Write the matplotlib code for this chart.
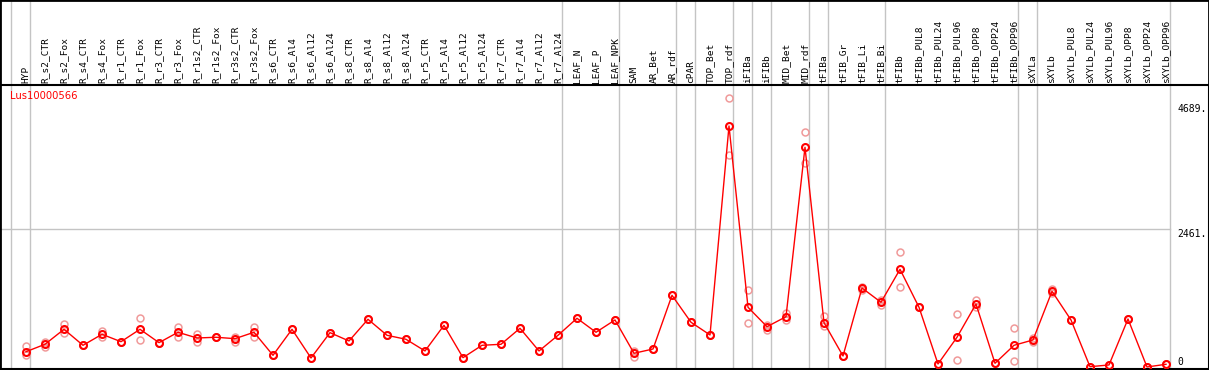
import matplotlib.pyplot as plt
from matplotlib.patches import Rectangle
from matplotlib.transforms import blended_transform_factory

# sample names along the x axis
labels = ['HYP', 'R_s2_CTR', 'R_s2_Fox', 'R_s4_CTR', 'R_s4_Fox', 'R_r1_CTR', 'R_r1_Fox',
          'R_r3_CTR', 'R_r3_Fox', 'R_r1s2_CTR', 'R_r1s2_Fox', 'R_r3s2_CTR', 'R_r3s2_Fox',
          'R_s6_CTR', 'R_s6_Al4', 'R_s6_Al12', 'R_s6_Al24', 'R_s8_CTR', 'R_s8_Al4',
          'R_s8_Al12', 'R_s8_Al24', 'R_r5_CTR', 'R_r5_Al4', 'R_r5_Al12', 'R_r5_Al24',
          'R_r7_CTR', 'R_r7_Al4', 'R_r7_Al12', 'R_r7_Al24', 'LEAF_N', 'LEAF_P', 'LEAF_NPK',
          'SAM', 'AR_Bet', 'AR_rdf', 'cPAR', 'TOP_Bet', 'TOP_rdf', 'iFIBa', 'iFIBb',
          'MID_Bet', 'MID_rdf', 'tFIBa', 'tFIB_Gr', 'tFIB_Li', 'tFIB_Bi', 'tFIBb',
          'tFIBb_PUL8', 'tFIBb_PUL24', 'tFIBb_PUL96', 'tFIBb_OPP8', 'tFIBb_OPP24',
          'tFIBb_OPP96', 'sXYLa', 'sXYLb', 'sXYLb_PUL8', 'sXYLb_PUL24', 'sXYLb_PUL96',
          'sXYLb_OPP8', 'sXYLb_OPP24', 'sXYLb_OPP96']

# number of samples in each tissue group (grey separators)
group_sizes = [1, 28, 3, 3, 1, 2, 1, 1, 2, 1, 3, 7, 1, 7]

# mean expression
means = [272, 404, 671, 386, 582, 450, 671, 433, 618, 516, 529, 504, 618,
         208, 671, 160, 611, 463, 849, 564, 493, 285, 742, 166, 386, 404, 689,
         285, 564, 867, 618, 837, 244, 320, 1276, 796, 570, 4290, 1063, 717,
         895, 3911, 789, 196, 1406, 1152, 1739, 1063, 53, 529, 1121, 66, 386,
         481, 1347, 837, 5, 36, 854, 0, 48]

# replicate values
rep_a = [374, 450, 760, 386, 641, 450, 867, 433, 717, 582, 529, 539, 707,
         208, 671, 160, 611, 463, 849, 564, 493, 285, 742, 166, 386, 404, 689,
         285, 564, 867, 618, 837, 285, 320, 1276, 796, 570, 4783, 1371, 748,
         956, 4178, 908, 196, 1429, 1193, 2052, 1063, 53, 938, 1193, 66, 689,
         522, 1383, 837, 5, 36, 854, 0, 48]
rep_b = [214, 361, 600, 386, 539, 450, 481, 433, 529, 445, 529, 450, 539,
         208, 671, 160, 611, 463, 849, 564, 493, 285, 742, 166, 386, 404, 689,
         285, 564, 867, 618, 837, 183, 320, 1276, 796, 570, 3774, 778, 659,
         837, 3626, 730, 196, 1371, 1098, 1419, 1063, 53, 125, 1063, 66, 101,
         445, 1323, 837, 5, 36, 854, 0, 48]

y_ticks = [0, 2461, 4689]
gene = 'Lus10000566'

W, H = 1209, 370
fig = plt.figure(figsize=(W / 100, H / 100), dpi=100)
# plot area: pixel rows 85..369
ax = fig.add_axes([0, 1 / H, 1, 284 / H])

x = list(range(len(labels)))
step = 19.0
x0 = -26 / step
ax.set_xlim(x0, x0 + W / step)
ax.set_ylim(-36, 5020)

light = '#f09a9a'
ax.plot(x, rep_a, 'o', ms=5, mfc='none', mec=light, mew=1.1, zorder=3)
ax.plot(x, rep_b, 'o', ms=5, mfc='none', mec=light, mew=1.1, zorder=3)
ax.plot(x, means, '-', color='red', lw=1, zorder=4)
ax.plot(x, means, 'o', ms=5, mfc='none', mec='red', mew=1.5, zorder=5)

# grey group separators across the whole height
bt = blended_transform_factory(ax.transData, ax.transAxes)
top = 369 / 284
end = -1
ax.vlines(end + 0.21, 0, top, color='#c4c4c4', lw=1, transform=bt, clip_on=False, zorder=1)
for g in group_sizes:
    end += g
    ax.vlines(end + 0.21, 0, top, color='#c4c4c4', lw=1, transform=bt, clip_on=False, zorder=1)

# middle reference line
ax.axhline(y_ticks[1], xmin=0, xmax=1170 / W, color='#c4c4c4', lw=1, zorder=1)

# sample labels above the plot
for i, name in enumerate(labels):
    ax.text(i, 1.007, name, transform=bt, rotation=90, ha='center', va='bottom',
            family='DejaVu Sans Mono', fontsize=6.8, clip_on=False)

# value labels on the right
xr = x0 + 1177 / step
for v in y_ticks:
    txt = '0' if v == 0 else '%d.' % v
    ax.text(xr, v, txt, ha='left', va='bottom' if v == 0 else 'top',
            family='DejaVu Sans Mono', fontsize=7)

ax.text(x0 + 10 / step, 0.96, gene, transform=bt, color='red', ha='left', va='center',
        family='DejaVu Sans', fontsize=7.2)

ax.set_xticks([])
ax.set_yticks([])
for s in ax.spines.values():
    s.set_color('black')
    s.set_linewidth(1.5)

# outer frame
fig.add_artist(Rectangle((0, 0), 1, 1, transform=fig.transFigure, fill=False,
                         edgecolor='black', lw=2))

fig.savefig('out.png', dpi=100)
